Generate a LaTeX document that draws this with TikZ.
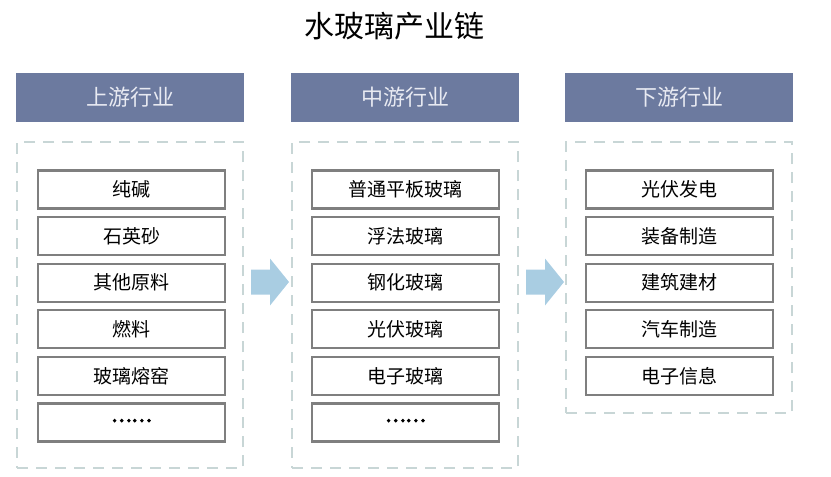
\documentclass[tikz,border=0pt]{standalone}
\usepackage{fontspec}
\setmainfont{Noto Sans CJK SC}
\usetikzlibrary{math}

\definecolor{headblue}{HTML}{6C7A9F}
\definecolor{headtext}{HTML}{E8EAF2}
\definecolor{panelline}{HTML}{C8D6D6}
\definecolor{itemline}{HTML}{7F7F7F}
\definecolor{flowblue}{HTML}{A9CDE2}
\newcommand{\moredots}{\raisebox{4pt}{\addfontfeatures{FakeBold=5}……}}

\begin{document}
\begin{tikzpicture}[x=1pt,y=-1pt,
    head/.style={fill=headblue,text=headtext,minimum width=228pt,minimum height=49pt,
      inner sep=0pt,font=\fontsize{22}{22}\selectfont},
    panel/.style={draw=panelline,line width=1.8pt,dash pattern=on 11pt off 8pt,
      minimum width=226pt,inner sep=0pt},
    item/.style={draw=itemline,line width=2.2pt,minimum width=187pt,minimum height=38pt,
      inner sep=0pt,font=\fontsize{19}{19}\selectfont},
    flow/.style={fill=flowblue}]
    \useasboundingbox (0,0) rectangle (831,477);
    % The columns
    \tikzmath{\cu=130;\cm=405;\cd=679;\dy=46.6;}
    \node[font=\fontsize{30}{30}\selectfont] (title) at (394,26) {水玻璃产业链};
    \node[head] (uphead) at (\cu,97.5) {上游行业};
    \node[head] (midhead) at (\cm,97.5) {中游行业};
    \node[head] (downhead) at (\cd,97.5) {下游行业};
    % The dashed panels
    \node[panel,minimum height=326pt] (uppanel) at (\cu,305) {};
    \node[panel,minimum height=326pt] (midpanel) at (\cm,305) {};
    \node[panel,minimum height=271pt] (downpanel) at (\cd,277.5) {};
    % The items
    \foreach \t [count=\i] in {纯碱,石英砂,其他原料,燃料,玻璃熔窑,\moredots}
      \node[item] (up\i) at (\cu+1.5,189.5+\dy*\i-\dy) {\t};
    \foreach \t [count=\i] in {普通平板玻璃,浮法玻璃,钢化玻璃,光伏玻璃,电子玻璃,\moredots}
      \node[item] (mid\i) at (\cm+0.5,189.5+\dy*\i-\dy) {\t};
    \foreach \t [count=\i] in {光伏发电,装备制造,建筑建材,汽车制造,电子信息}
      \node[item] (down\i) at (\cd+0.5,189.5+\dy*\i-\dy) {\t};
    % The flow arrows
    \coordinate (upflow) at (270,282);
    \coordinate (midflow) at (545,282);
    \foreach \f in {upflow,midflow}
      \fill[flow,shift={(\f)}] (-19,-12.5) -- (0,-12.5) -- (0,-23.5) -- (19,0)
        -- (0,23.5) -- (0,12.5) -- (-19,12.5) -- cycle;
  \end{tikzpicture}
\end{document}
